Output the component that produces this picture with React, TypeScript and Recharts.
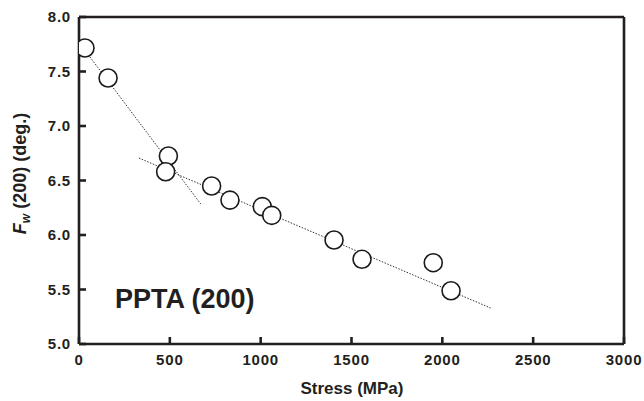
import React from 'react';
import { ScatterChart, Scatter, XAxis, YAxis, ReferenceLine, Customized } from 'recharts';

const stress = [33, 160, 492, 477, 730, 831, 1009, 1061, 1404, 1558, 1950, 2048];
const fwidth = [7.716, 7.44, 6.725, 6.58, 6.45, 6.32, 6.26, 6.18, 5.954, 5.777, 5.746, 5.489];

const trend1X = [30, 670];
const trend1Y = [7.70, 6.285];
const trend2X = [330, 2266];
const trend2Y = [6.706, 5.33];

const xTicks = [0, 500, 1000, 1500, 2000, 2500, 3000];
const yTicks = [5.0, 5.5, 6.0, 6.5, 7.0, 7.5, 8.0];

const points = stress.map((x, i) => ({ x, y: fwidth[i] }));
const trend1 = trend1X.map((x, i) => ({ x, y: trend1Y[i] }));
const trend2 = trend2X.map((x, i) => ({ x, y: trend2Y[i] }));

const FONT = '"Liberation Sans", Arial, Helvetica, sans-serif';
const INK = '#231f20';

const tickStyle = { fontSize: 15, fontWeight: 700, fill: INK, fontFamily: FONT, letterSpacing: 0.8 };

const Circle = (props: any) => (
  <circle cx={props.cx} cy={props.cy} r={9} fill="#fff" stroke="#1a1a1a" strokeWidth={1.6} />
);
const Nothing = () => <g />;

const Texts = () => (
  <g fontFamily={FONT} fontWeight={700} fill={INK}>
    <text x={115} y={308} fontSize={27}>PPTA (200)</text>
    <text x={352} y={394} fontSize={17} textAnchor="middle">Stress (MPa)</text>
    <text x={26} y={173.5} fontSize={18} textAnchor="middle" transform="rotate(-90, 26, 173.5)">
      <tspan fontStyle="italic">F</tspan>
      <tspan fontStyle="italic" fontSize={12} dy={4}>w</tspan>
      <tspan dy={-4}> (200) (deg.)</tspan>
    </text>
  </g>
);

export default function App() {
  return (
    <div style={{ position: 'absolute', left: 0, top: 0, background: '#fff' }}>
      <ScatterChart width={644} height={401} margin={{ top: 17, right: 20, bottom: 27, left: 19 }}>
        <XAxis
          type="number"
          dataKey="x"
          domain={[0, 3000]}
          ticks={xTicks}
          interval={0}
          height={30}
          tickSize={-7}
          tickMargin={17}
          tick={tickStyle}
          axisLine={{ stroke: INK, strokeWidth: 2.6 }}
          tickLine={{ stroke: INK, strokeWidth: 2.6 }}
          allowDataOverflow
        />
        <YAxis
          type="number"
          dataKey="y"
          domain={[5, 8]}
          ticks={yTicks}
          interval={0}
          width={60}
          tickSize={-7}
          tickMargin={15}
          tick={tickStyle}
          tickFormatter={(v: number) => v.toFixed(1)}
          axisLine={{ stroke: INK, strokeWidth: 2.6 }}
          tickLine={{ stroke: INK, strokeWidth: 2.6 }}
          allowDataOverflow
        />
        <ReferenceLine y={8} stroke={INK} strokeWidth={2.6} />
        <ReferenceLine x={3000} stroke={INK} strokeWidth={2.6} />
        <Scatter
          data={trend1}
          line={{ stroke: '#333', strokeWidth: 1, strokeDasharray: '1.5 1.5' }}
          lineType="joint"
          shape={Nothing}
          isAnimationActive={false}
          legendType="none"
        />
        <Scatter
          data={trend2}
          line={{ stroke: '#333', strokeWidth: 1, strokeDasharray: '1.5 1.5' }}
          lineType="joint"
          shape={Nothing}
          isAnimationActive={false}
          legendType="none"
        />
        <Scatter data={points} shape={Circle} isAnimationActive={false} legendType="none" />
        <Customized component={Texts} />
      </ScatterChart>
    </div>
  );
}
